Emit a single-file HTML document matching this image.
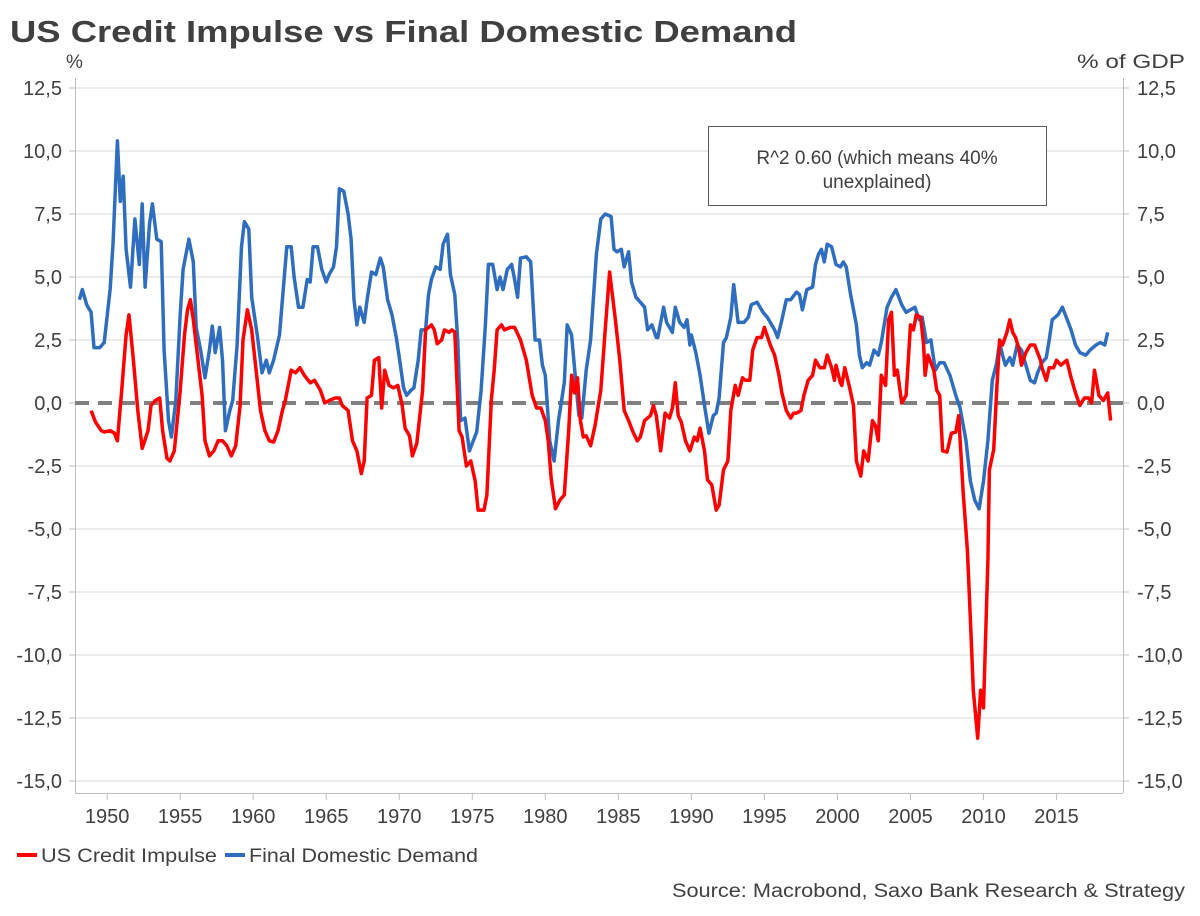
<!DOCTYPE html>
<html><head><meta charset="utf-8"><style>
html,body{margin:0;padding:0;background:#fff;}
svg{display:block;font-family:"Liberation Sans","DejaVu Sans",sans-serif;}
</style></head><body>
<svg id="chart" width="1200" height="916" viewBox="0 0 1200 916" xmlns="http://www.w3.org/2000/svg">
<text x="10" y="42" font-size="31" font-weight="bold" fill="#404040" textLength="787" lengthAdjust="spacingAndGlyphs">US Credit Impulse vs Final Domestic Demand</text>
<text x="66" y="68" font-size="19" fill="#404040">%</text>
<text x="1077" y="68" font-size="19" fill="#404040" textLength="108" lengthAdjust="spacingAndGlyphs">% of GDP</text>
<g id="grid"></g>
<g id="axes"></g>
<g id="series"></g>
<g>
<rect x="708.5" y="126.5" width="338" height="79" fill="#fff" stroke="#595959" stroke-width="1"/>
<text x="877" y="164" font-size="19" fill="#404040" text-anchor="middle">R^2 0.60 (which means 40%</text>
<text x="877" y="188" font-size="19" fill="#404040" text-anchor="middle">unexplained)</text>
</g>
<g>
<line x1="17" y1="855" x2="37" y2="855" stroke="#ff0000" stroke-width="4"/>
<text x="41" y="862" font-size="19" fill="#404040" textLength="176" lengthAdjust="spacingAndGlyphs">US Credit Impulse</text>
<line x1="225" y1="855" x2="245" y2="855" stroke="#2f6ebf" stroke-width="4"/>
<text x="249" y="862" font-size="19" fill="#404040" textLength="229" lengthAdjust="spacingAndGlyphs">Final Domestic Demand</text>
</g>
<text x="1185" y="897" font-size="19" fill="#404040" text-anchor="end" textLength="513" lengthAdjust="spacingAndGlyphs">Source: Macrobond, Saxo Bank Research &amp; Strategy</text>
</svg>
<script>
const yTicks = [12.5,10,7.5,5,2.5,0,-2.5,-5,-7.5,-10,-12.5,-15];
const yTickLabels = ["12,5","10,0","7,5","5,0","2,5","0,0","-2,5","-5,0","-7,5","-10,0","-12,5","-15,0"];
const xTicks = [1950,1955,1960,1965,1970,1975,1980,1985,1990,1995,2000,2005,2010,2015];

const demandYears = [1948.1,1948.3,1948.6,1948.9,1949.1,1949.5,1949.8,1950.2,1950.4,1950.7,1950.9,1951.1,1951.3,1951.6,1951.9,1952.2,1952.4,1952.6,1952.9,1953.1,1953.4,1953.7,1953.9,1954.2,1954.4,1954.7,1955.0,1955.2,1955.6,1955.9,1956.1,1956.4,1956.7,1957.0,1957.2,1957.4,1957.7,1957.9,1958.1,1958.4,1958.6,1958.9,1959.2,1959.4,1959.7,1959.9,1960.3,1960.6,1960.9,1961.1,1961.4,1961.8,1962.0,1962.3,1962.6,1962.8,1963.1,1963.4,1963.7,1963.9,1964.1,1964.4,1964.7,1965.0,1965.2,1965.5,1965.7,1965.9,1966.2,1966.5,1966.7,1966.9,1967.1,1967.3,1967.6,1967.8,1968.1,1968.4,1968.7,1968.9,1969.2,1969.5,1969.8,1970.0,1970.3,1970.5,1970.8,1971.0,1971.3,1971.5,1971.8,1972.0,1972.2,1972.5,1972.8,1973.0,1973.3,1973.5,1973.8,1974.0,1974.2,1974.5,1974.8,1975.0,1975.3,1975.6,1975.9,1976.1,1976.4,1976.7,1976.9,1977.1,1977.4,1977.7,1977.9,1978.1,1978.3,1978.7,1979.0,1979.3,1979.6,1979.8,1980.0,1980.3,1980.6,1980.9,1981.3,1981.5,1981.8,1982.0,1982.3,1982.5,1982.8,1983.1,1983.5,1983.8,1984.1,1984.5,1984.7,1984.9,1985.2,1985.4,1985.7,1985.9,1986.2,1986.5,1986.8,1987.0,1987.3,1987.6,1987.7,1988.1,1988.3,1988.7,1988.9,1989.2,1989.5,1989.7,1989.9,1990.0,1990.3,1990.6,1990.9,1991.2,1991.5,1991.7,1991.9,1992.2,1992.4,1992.7,1992.9,1993.2,1993.6,1993.9,1994.1,1994.5,1994.9,1995.2,1995.7,1995.9,1996.2,1996.5,1996.8,1997.2,1997.4,1997.6,1997.9,1998.3,1998.5,1998.7,1998.9,1999.1,1999.3,1999.6,1999.9,2000.2,2000.4,2000.6,2000.9,2001.3,2001.5,2001.7,2002.0,2002.2,2002.5,2002.8,2003.0,2003.4,2003.7,2004.0,2004.4,2004.7,2005.0,2005.3,2005.6,2005.8,2006.1,2006.4,2006.7,2007.0,2007.3,2007.7,2008.1,2008.4,2008.8,2009.1,2009.4,2009.7,2010.0,2010.3,2010.6,2010.9,2011.1,2011.3,2011.5,2011.8,2012.0,2012.3,2012.6,2012.9,2013.2,2013.5,2013.7,2014.0,2014.3,2014.5,2014.7,2015.1,2015.4,2015.6,2016.0,2016.3,2016.6,2017.0,2017.3,2017.7,2018.0,2018.3,2018.5];
const demandValues = [4.1,4.5,3.9,3.6,2.2,2.2,2.4,4.5,6.3,10.4,8.0,9.0,6.1,4.6,7.3,5.5,7.9,4.6,7.1,7.9,6.5,6.4,2.1,-0.7,-1.35,0.1,3.5,5.3,6.5,5.6,3.0,2.1,1.0,2.1,3.05,2.0,3.0,1.7,-1.1,-0.3,0.1,2.3,6.2,7.2,6.9,4.2,2.6,1.2,1.7,1.2,1.7,2.7,4.1,6.2,6.2,5.0,3.8,3.8,4.9,4.8,6.2,6.2,5.3,4.8,5.1,5.4,6.2,8.5,8.4,7.5,6.5,4.1,3.1,3.8,3.2,4.1,5.2,5.1,5.75,5.4,4.1,3.5,2.6,1.8,0.6,0.3,0.5,0.6,1.7,2.9,2.9,4.3,4.9,5.4,5.3,6.3,6.7,5.1,4.3,2.5,-0.7,-0.6,-1.9,-1.6,-1.15,0.5,3.1,5.5,5.5,4.5,5.0,4.5,5.3,5.5,4.9,4.2,5.75,5.8,5.6,2.5,2.5,1.5,1.1,-1.5,-2.3,-0.7,0.8,3.1,2.7,1.4,-0.5,-0.6,1.3,2.5,5.9,7.3,7.5,7.4,6.1,6.0,6.1,5.4,6.0,4.8,4.2,4.0,3.8,2.9,3.1,2.6,2.6,3.8,3.2,2.8,3.8,3.2,3.0,3.3,2.3,2.7,2.0,1.1,-0.1,-1.2,-0.5,-0.4,0.2,2.4,2.6,3.4,4.7,3.2,3.2,3.4,3.9,4.0,3.6,3.4,2.9,2.6,3.3,4.1,4.1,4.4,4.3,3.7,4.5,4.6,5.5,5.9,6.1,5.6,6.3,6.2,5.5,5.4,5.6,5.4,4.3,3.1,1.9,1.4,1.6,1.5,2.1,1.9,2.4,3.8,4.2,4.5,3.9,3.6,3.7,3.8,3.3,3.4,2.4,2.5,1.3,1.6,1.6,1.1,0.3,-0.2,-1.5,-3.1,-3.85,-4.2,-3.1,-1.5,0.9,1.6,2.4,1.9,1.5,1.8,1.5,2.3,2.1,1.5,0.9,0.8,1.2,1.6,1.8,2.5,3.3,3.5,3.8,3.5,2.9,2.3,2.0,1.9,2.1,2.3,2.4,2.3,2.8];

const impulseYears = [1948.9,1949.2,1949.6,1949.8,1950.2,1950.5,1950.7,1951.0,1951.3,1951.5,1951.8,1952.1,1952.4,1952.8,1953.0,1953.3,1953.6,1953.8,1954.1,1954.3,1954.6,1955.0,1955.3,1955.5,1955.7,1955.9,1956.2,1956.5,1956.7,1957.0,1957.3,1957.6,1957.9,1958.2,1958.5,1958.8,1959.1,1959.3,1959.6,1959.9,1960.2,1960.5,1960.8,1961.1,1961.4,1961.7,1962.0,1962.2,1962.6,1962.9,1963.2,1963.5,1963.9,1964.2,1964.6,1964.9,1965.2,1965.6,1965.9,1966.1,1966.5,1966.8,1967.1,1967.4,1967.6,1967.8,1968.1,1968.3,1968.6,1968.8,1969.0,1969.3,1969.6,1969.9,1970.2,1970.4,1970.7,1970.9,1971.2,1971.6,1971.8,1972.2,1972.4,1972.6,1972.9,1973.1,1973.4,1973.6,1973.8,1974.1,1974.3,1974.6,1974.9,1975.2,1975.4,1975.8,1976.0,1976.3,1976.5,1976.7,1977.0,1977.2,1977.6,1977.9,1978.3,1978.7,1979.1,1979.4,1979.7,1980.0,1980.2,1980.4,1980.7,1981.0,1981.3,1981.6,1981.8,1982.0,1982.2,1982.4,1982.6,1982.8,1983.1,1983.4,1983.8,1984.1,1984.4,1984.8,1985.1,1985.4,1985.7,1986.0,1986.3,1986.5,1986.8,1987.2,1987.4,1987.6,1987.9,1988.2,1988.5,1988.7,1988.9,1989.1,1989.3,1989.6,1989.9,1990.2,1990.4,1990.6,1990.9,1991.1,1991.4,1991.7,1991.9,1992.2,1992.5,1992.7,1993.0,1993.2,1993.5,1993.7,1994.0,1994.2,1994.5,1994.8,1995.0,1995.4,1995.7,1996.0,1996.2,1996.5,1996.8,1997.0,1997.2,1997.5,1997.7,1998.0,1998.3,1998.5,1998.8,1999.1,1999.3,1999.6,1999.8,1999.9,2000.2,2000.3,2000.5,2000.8,2001.1,2001.3,2001.6,2001.8,2002.1,2002.4,2002.6,2002.8,2003.0,2003.3,2003.5,2003.7,2003.9,2004.1,2004.4,2004.7,2005.0,2005.2,2005.4,2005.7,2005.9,2006.0,2006.2,2006.6,2006.8,2007.0,2007.2,2007.5,2007.8,2008.1,2008.3,2008.6,2008.9,2009.1,2009.3,2009.6,2009.8,2010.0,2010.3,2010.4,2010.7,2010.9,2011.1,2011.3,2011.6,2011.8,2012.0,2012.2,2012.4,2012.6,2012.9,2013.2,2013.5,2013.9,2014.0,2014.3,2014.5,2014.8,2015.0,2015.3,2015.7,2016.0,2016.3,2016.6,2016.9,2017.2,2017.4,2017.6,2017.9,2018.2,2018.5,2018.7];
const impulseValues = [-0.3,-0.75,-1.1,-1.15,-1.1,-1.2,-1.5,0.5,2.7,3.5,1.7,-0.3,-1.8,-1.1,-0.1,0.1,0.2,-1.1,-2.2,-2.3,-1.9,0.5,2.7,3.7,4.1,3.3,1.8,0.3,-1.5,-2.1,-1.9,-1.5,-1.5,-1.7,-2.1,-1.7,-0.1,2.5,3.7,2.9,1.3,-0.3,-1.1,-1.5,-1.55,-1.1,-0.3,0.1,1.3,1.2,1.4,1.1,0.8,0.9,0.5,0.0,0.1,0.2,0.2,-0.1,-0.3,-1.5,-1.9,-2.8,-2.3,0.2,0.3,1.7,1.8,-0.2,1.3,0.7,0.6,0.7,-0.1,-1.0,-1.3,-2.1,-1.6,0.5,2.9,3.1,2.9,2.35,2.5,2.9,2.8,2.9,2.8,-1.1,-1.35,-2.5,-2.3,-3.1,-4.25,-4.25,-3.65,0.1,1.3,2.9,3.1,2.9,3.0,3.0,2.5,1.7,0.3,-0.2,-0.2,-0.7,-1.5,-3.0,-4.2,-3.85,-3.65,-1.1,1.1,0.4,1.0,-0.7,-1.35,-1.3,-1.7,-0.9,0.5,2.9,5.2,3.3,1.7,-0.3,-0.7,-1.15,-1.5,-1.35,-0.7,-0.5,-0.1,-0.5,-1.9,-0.4,-0.6,-0.2,0.8,-0.5,-0.75,-1.5,-1.9,-1.35,-1.5,-1.0,-1.9,-3.05,-3.25,-4.25,-4.05,-2.65,-2.3,-0.3,0.7,0.3,1.0,0.9,0.9,2.1,2.6,2.6,3.0,2.3,1.9,1.1,0.4,-0.3,-0.6,-0.4,-0.4,-0.3,0.3,0.9,1.1,1.7,1.4,1.4,1.9,1.4,0.9,1.5,0.8,0.7,1.4,0.7,-0.1,-2.3,-2.9,-1.9,-2.3,-0.7,-0.9,-1.5,1.1,0.7,3.3,3.6,1.1,1.3,0.0,0.3,3.1,2.9,3.5,3.4,2.3,1.1,1.9,1.3,0.5,0.3,-1.9,-1.95,-1.2,-1.15,-0.5,-3.5,-5.85,-8.6,-11.4,-13.3,-11.4,-12.1,-6.25,-2.65,-1.85,0.5,2.5,2.3,2.8,3.3,2.8,2.6,2.2,1.5,2.0,2.3,2.3,1.7,1.4,0.9,1.4,1.4,1.7,1.5,1.7,1.0,0.4,-0.1,0.2,0.2,0.0,1.3,0.3,0.1,0.4,-0.7];

const NS = "http://www.w3.org/2000/svg";
const plotL = 75, plotR = 1123, plotT = 88, plotB = 781, axisB = 793;
const xMin = 1947.8, xMax = 2019.55, yMin = -15, yMax = 12.5;
function xScale(v){ return plotL + (v - xMin) / (xMax - xMin) * (plotR - plotL); }
function yScale(v){ return plotB - (v - yMin) / (yMax - yMin) * (plotB - plotT); }
function mk(tag, attrs, parent){ const e = document.createElementNS(NS, tag); for (const k in attrs) e.setAttribute(k, attrs[k]); parent.appendChild(e); return e; }

const grid = document.getElementById('grid');
const axes = document.getElementById('axes');
const series = document.getElementById('series');

yTicks.forEach((t, i) => {
  const y = yScale(t);
  if (t !== 0) {
    const g = mk('line', {x1: plotL, x2: plotR, y1: y, y2: y, stroke: '#d9d9d9', 'stroke-width': 1}, grid);
    
    
  }
  mk('line', {x1: plotL - 6, x2: plotL, y1: y, y2: y, stroke: '#bfbfbf', 'stroke-width': 1}, axes);
  mk('line', {x1: plotR, x2: plotR + 6, y1: y, y2: y, stroke: '#bfbfbf', 'stroke-width': 1}, axes);
  const lt = mk('text', {x: 62, y: y + 7, 'font-size': 20, fill: '#404040', 'text-anchor': 'end'}, axes);
  lt.textContent = yTickLabels[i];
  
  
  const rt = mk('text', {x: 1137, y: y + 7, 'font-size': 20, fill: '#404040'}, axes);
  rt.textContent = yTickLabels[i];
  
  
});

const la = mk('line', {x1: plotL + 0.5, x2: plotL + 0.5, y1: plotT - 10, y2: axisB, stroke: '#bfbfbf', 'stroke-width': 1}, axes);


const ra = mk('line', {x1: plotR + 0.5, x2: plotR + 0.5, y1: plotT - 10, y2: axisB, stroke: '#bfbfbf', 'stroke-width': 1}, axes);


const xa = mk('line', {x1: plotL, x2: plotR, y1: axisB + 0.5, y2: axisB + 0.5, stroke: '#bfbfbf', 'stroke-width': 1}, axes);



xTicks.forEach(t => {
  const x = xScale(t);
  mk('line', {x1: x, x2: x, y1: axisB, y2: axisB + 7, stroke: '#bfbfbf', 'stroke-width': 1}, axes);
  const tx = mk('text', {x: x, y: 823, 'font-size': 20, fill: '#404040', 'text-anchor': 'middle'}, axes);
  tx.textContent = String(t);
  
  
});

const zl = mk('line', {x1: plotL, x2: plotR, y1: yScale(0), y2: yScale(0), stroke: '#808080', 'stroke-width': 4, 'stroke-dasharray': '14 9'}, series);



function path(xs, ys){ return xs.map((x, i) => (i ? 'L' : 'M') + xScale(x).toFixed(1) + ' ' + yScale(ys[i]).toFixed(1)).join(' '); }
const blue = mk('path', {d: path(demandYears, demandValues), fill: 'none', stroke: '#2f6ebf', 'stroke-width': 3.5, 'stroke-linejoin': 'round'}, series);


const red = mk('path', {d: path(impulseYears, impulseValues), fill: 'none', stroke: '#ff0000', 'stroke-width': 3.5, 'stroke-linejoin': 'round'}, series);


</script>
</body></html>
